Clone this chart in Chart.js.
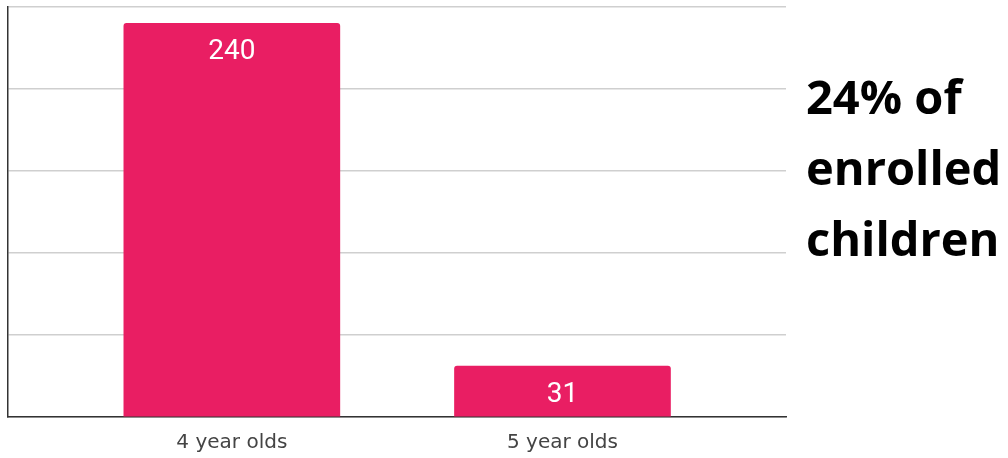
<!DOCTYPE html>
<html>
<head>
<meta charset="utf-8">
<script src="https://cdn.jsdelivr.net/npm/chart.js@4"></script>
<style>
  html, body { margin: 0; padding: 0; background: #fff; }
  #wrap { position: relative; width: 1008px; height: 458px; }
  #note {
    position: absolute; left: 806px; top: 61px;
    font-family: "Open Sans", sans-serif; font-weight: 700;
    font-size: 47px; line-height: 71px; color: #000; white-space: nowrap;
  }
</style>
</head>
<body>
<div id="wrap">
  <canvas id="chart" width="1008" height="458"></canvas>
  <div id="note">24% of<br>enrolled<br>children</div>
</div>
<script>
// bar chart: enrolled children by age
const categories = ['4 year olds', '5 year olds'];
const counts = [240, 31];

// draws the value just inside the top of each bar
const valueLabels = {
  id: 'valueLabels',
  afterDatasetsDraw(chart) {
    const ctx = chart.ctx;
    const meta = chart.getDatasetMeta(0);
    ctx.save();
    ctx.fillStyle = '#fff';
    ctx.font = '28px Roboto';
    ctx.textAlign = 'center';
    ctx.textBaseline = 'alphabetic';
    meta.data.forEach((bar, i) => {
      ctx.fillText(String(counts[i]), bar.x, bar.y + 36);
    });
    ctx.restore();
  }
};

new Chart(document.getElementById('chart'), {
  type: 'bar',
  data: {
    datasets: [{
      data: counts.map((v, i) => ({ x: i, y: v })),
      backgroundColor: '#E91E63',
      borderRadius: { topLeft: 3, topRight: 3 },
      borderSkipped: 'bottom',
      barThickness: 216
    }]
  },
  options: {
    responsive: false,
    animation: false,
    layout: { padding: { left: 8, top: 7, right: 222, bottom: -11 } },
    plugins: { legend: { display: false }, tooltip: { enabled: false } },
    scales: {
      x: {
        type: 'linear',
        offset: false,
        min: -0.677,
        max: 1.676,
        afterBuildTicks: (axis) => {
          axis.ticks = categories.map((c, i) => ({ value: i }));
        },
        ticks: {
          callback: (v) => categories[v],
          color: '#444',
          font: { family: 'DejaVu Sans', size: 20 },
          padding: 14,
          autoSkip: false,
          maxRotation: 0
        },
        grid: { display: false, drawTicks: false },
        border: { display: true, color: '#333', width: 1.5 }
      },
      y: {
        min: 0,
        max: 250,
        ticks: { display: false, stepSize: 50 },
        grid: { color: '#cfcfcf', lineWidth: 1.5, drawTicks: false },
        border: { display: true, color: '#333', width: 1.5 }
      }
    }
  },
  plugins: [valueLabels]
});
</script>
</body>
</html>
